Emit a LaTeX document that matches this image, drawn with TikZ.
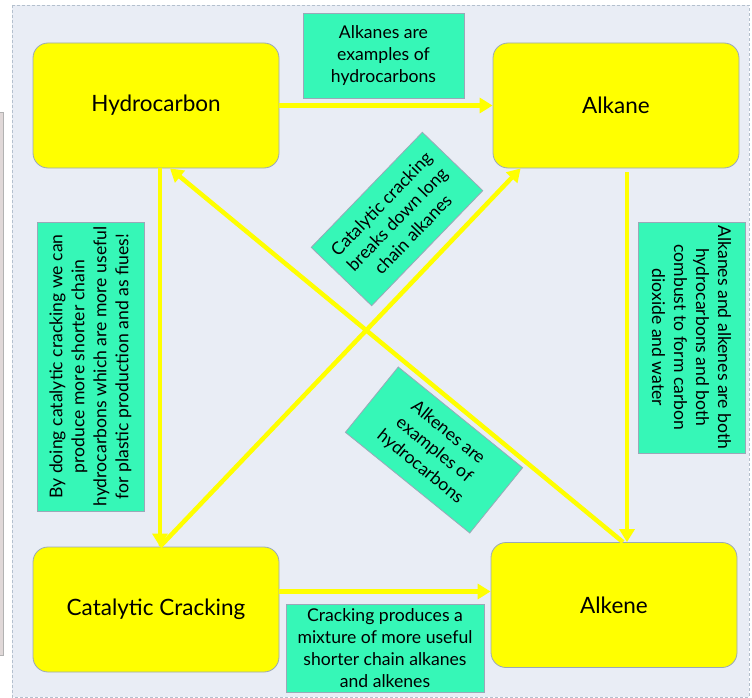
\documentclass[tikz,border=0pt]{standalone}
\usepackage{fontspec}
\setmainfont{Lato}
\usepackage{xcolor}
\usetikzlibrary{arrows.meta}
\definecolor{panelbg}{HTML}{E9EDF5}
\definecolor{panelline}{HTML}{B4C0CE}
\definecolor{stripbg}{HTML}{E0D8D8}
\definecolor{conceptyellow}{HTML}{FFFF00}
\definecolor{notegreen}{HTML}{36F7B7}
\definecolor{edgegray}{HTML}{9AA8B8}

\tikzset{
  concept/.style={draw=edgegray, line width=0.8pt, fill=conceptyellow,
    rounded corners=15pt, minimum width=246pt, minimum height=125pt,
    inner sep=0pt, font=\fontsize{22.5}{26}\selectfont},
  note/.style={draw=edgegray, line width=0.8pt, fill=notegreen,
    inner sep=0pt, align=center, font=\fontsize{17.6}{22}\selectfont},
  link/.style={draw=conceptyellow, line width=4.5pt,
    -{Triangle[length=13pt,width=15pt]}},
}

\begin{document}
\begin{tikzpicture}[x=1pt, y=-1pt]
  \useasboundingbox[fill=white] (0,0) rectangle (752,698);
  % panel behind the map
  \filldraw[fill=stripbg, draw=gray!60] (-1,112) rectangle (3,655);
  \filldraw[fill=panelbg, draw=panelline, densely dashed, line width=0.8pt]
    (12,5) rectangle (749,697);

  % the four concepts
  \node[concept] (hydro)  at (156,105.5) {Hydrocarbon};
  \node[concept] (alkane) at (616,105.5) {Alkane};
  \node[concept] (crack)  at (156,609.5) {Catalytic Cracking};
  \node[concept] (alkene) at (614,605)   {Alkene};

  % links
  \draw[link] (hydro.east) -- (alkane.west);
  \draw[link] ([xshift=4pt]hydro.south) -- ([xshift=4pt]crack.north);
  \draw[link] ([xshift=4pt]crack.north) -- ([xshift=28pt]alkane.south west);
  \draw[link] ([xshift=9pt]alkene.north) -- ([xshift=14pt]hydro.south);
  \draw[link] ([xshift=11pt,yshift=-4pt]alkane.south)
    -- ([xshift=11pt]alkane.south |- alkene.north);
  \draw[link] ([yshift=18pt]crack.east) -- ([yshift=18pt]crack.east -| alkene.west);

  % notes on the links
  \node[note, minimum width=161pt, minimum height=85pt] (noteTop) at (383.5,55.5)
    {Alkanes are\\examples of\\hydrocarbons};
  \node[note, minimum width=289pt, minimum height=107pt, rotate=90] (noteLeft) at (90.5,366.5)
    {By doing catalytic  cracking we can\\produce more shorter chain\\hydrocarbons which are more useful\\for plastic production and as fiues!};
  \node[note, minimum width=160pt, minimum height=84pt, rotate=46] (noteCrack) at (397,219)
    {Catalytic cracking\\breaks down long\\chain alkanes};
  \node[note, minimum width=231pt, minimum height=107pt, rotate=-90] (noteRight) at (691.5,337.5)
    {Alkanes and alkenes  are both\\hydrocarbons and both\\combust to form carbon\\dioxide and water};
  \node[note, minimum width=160pt, minimum height=84pt, rotate=-39] (noteAlkene) at (434,450)
    {Alkenes are\\examples of\\hydrocarbons};
  \node[note, minimum width=198pt, minimum height=88pt] (noteBottom) at (385,648)
    {Cracking produces a\\mixture of more useful\\shorter chain alkanes\\and alkenes};
\end{tikzpicture}
\end{document}
